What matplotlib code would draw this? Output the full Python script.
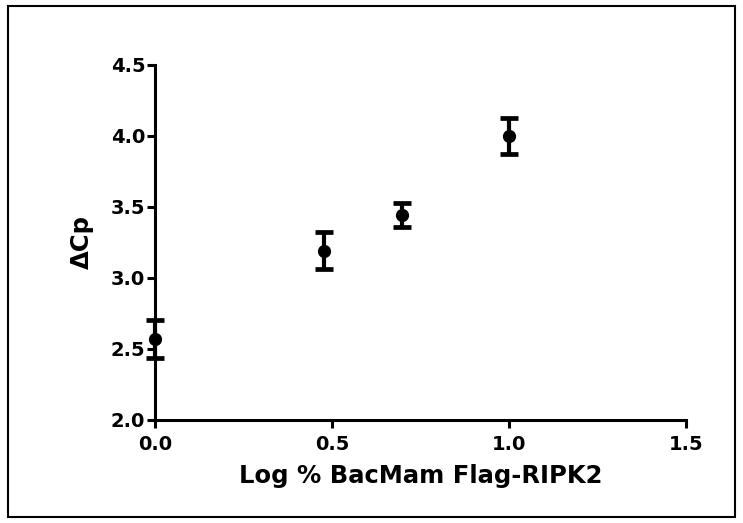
import numpy as np
import matplotlib.pyplot as plt
from matplotlib.patches import Rectangle

# Data
log_pct = [0.0, 0.477, 0.699, 1.0]
delta_cp = [2.57, 3.19, 3.44, 4.00]
sem = [0.135, 0.13, 0.085, 0.125]

xticks = [0.0, 0.5, 1.0, 1.5]
yticks = [2.0, 2.5, 3.0, 3.5, 4.0, 4.5]

plt.rcParams['font.family'] = ['DejaVu Sans']
plt.rcParams['font.weight'] = 'bold'

fig = plt.figure(figsize=(7.43, 5.23), dpi=100)
ax = fig.add_axes([0.2086, 0.197, 0.7147, 0.679])

ax.errorbar(log_pct, delta_cp, yerr=sem, fmt='o', color='black',
            markersize=8.5, elinewidth=3.0, capsize=6.5, capthick=3.4,
            clip_on=False, zorder=3)

ax.set_xlim(0, 1.5)
ax.set_ylim(2.0, 4.5)
ax.set_xticks(xticks)
ax.set_yticks(yticks)
ax.set_xticklabels(['%.1f' % t for t in xticks])
ax.set_yticklabels(['%.1f' % t for t in yticks])

for s in ['top', 'right']:
    ax.spines[s].set_visible(False)
for s in ['left', 'bottom']:
    ax.spines[s].set_linewidth(2.2)

ax.tick_params(axis='both', direction='out', width=2.2, length=6,
               labelsize=14, pad=1)
ax.tick_params(axis='x', pad=5)

ax.set_xlabel('Log % BacMam Flag-RIPK2', fontsize=17.5, fontweight='bold',
              labelpad=7)
ax.set_ylabel('ΔCp', fontsize=17.5, fontweight='bold', labelpad=12)

# border round the whole picture
fig.patches.append(Rectangle((0.011, 0.012), 0.978, 0.976,
                             transform=fig.transFigure, fill=False,
                             edgecolor='black', linewidth=1.5))

fig.savefig('out.png', dpi=100)
